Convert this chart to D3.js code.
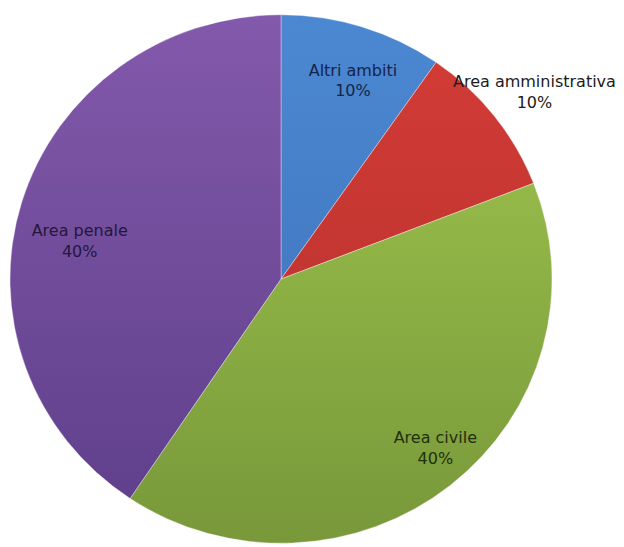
<!DOCTYPE html>
<html>
<head>
<meta charset="utf-8">
<script src="https://cdn.jsdelivr.net/npm/d3@7"></script>
<style>
  body { margin: 0; background: #fff; }
  svg { display: block; }
</style>
</head>
<body>
<svg width="624" height="547"></svg>
<script>
// data (shares in %, labels are rounded)
const categories = ["Altri ambiti", "Area amministrativa", "Area civile", "Area penale"]
const values = [9.7, 9.4, 40.3, 40.6]
const pctLabels = ["10%", "10%", "40%", "40%"]

// colours: light at the top, darker at the bottom (Excel style shading)
const topColors = ["#4c88d2", "#d43c37", "#a2c84f", "#8359ab"]
const bottomColors = ["#3a6fb5", "#b22f2b", "#78983a", "#5d3e8a"]
const textColors = ["#14244a", "#1c1c1c", "#1f300a", "#24163c"]

// label placement tweaks (radius in px, angle shift in degrees)
const labelRadius = [216, 318, 232, 205]
const labelShift = [2, 1, -3, -6]

const cx = 281, cy = 279
const r = 271
const squash = 0.975

let svg = d3.select("svg")
let defs = svg.append("defs")

categories.forEach((c, i) => {
    let g = defs.append("linearGradient")
        .attr("id", "grad" + i)
        .attr("gradientUnits", "userSpaceOnUse")
        .attr("x1", 0).attr("y1", -r)
        .attr("x2", 0).attr("y2", r)
    g.append("stop").attr("offset", "0%").attr("stop-color", topColors[i])
    g.append("stop").attr("offset", "100%").attr("stop-color", bottomColors[i])
})

const pie = d3.pie().sort(null).value(d => d)
const arcs = pie(values)
const arcGen = d3.arc().innerRadius(0).outerRadius(r)

let pieGroup = svg.append("g")
    .attr("transform", `translate(${cx},${cy}) scale(1,${squash})`)

pieGroup.selectAll("path")
    .data(arcs)
    .join("path")
    .attr("d", arcGen)
    .attr("fill", (d, i) => `url(#grad${i})`)
    .attr("stroke", "rgba(255,255,255,0.45)")
    .attr("stroke-width", 0.8)

// labels
let labels = svg.append("g")
    .attr("font-family", "'DejaVu Sans', Verdana, sans-serif")
    .attr("font-size", 16)
    .attr("text-anchor", "middle")

arcs.forEach((d, i) => {
    let a = (d.startAngle + d.endAngle) / 2 + labelShift[i] * Math.PI / 180
    let x = cx + labelRadius[i] * Math.sin(a)
    let y = cy - labelRadius[i] * Math.cos(a) * squash
    let t = labels.append("text")
        .attr("x", x)
        .attr("y", y)
        .attr("fill", textColors[i])
    t.append("tspan").attr("x", x).attr("dy", "-0.3em").text(categories[i])
    t.append("tspan").attr("x", x).attr("dy", "1.3em").text(pctLabels[i])
})
</script>
</body>
</html>
